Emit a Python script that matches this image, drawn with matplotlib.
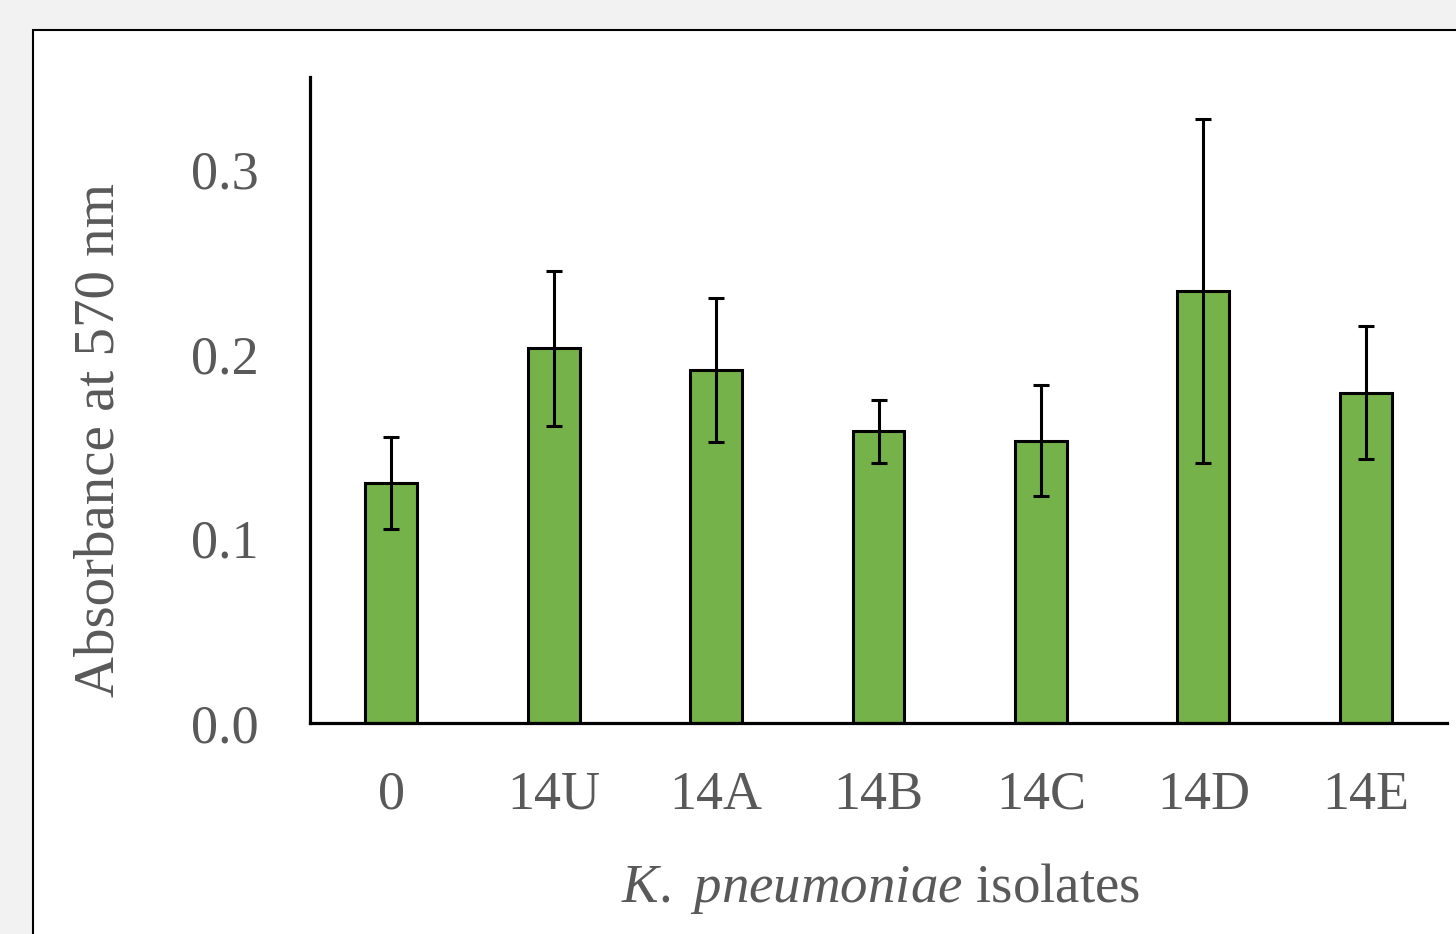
import matplotlib
matplotlib.use("Agg")
from matplotlib import pyplot as plt
from matplotlib.patches import Rectangle

isolates = ["0", "14U", "14A", "14B", "14C", "14D", "14E"]
absorbance = [0.130, 0.203, 0.191, 0.158, 0.153, 0.234, 0.179]
err = [0.025, 0.042, 0.039, 0.017, 0.030, 0.093, 0.036]
yticks = [0.0, 0.1, 0.2, 0.3]

plt.rcParams['font.family'] = ['Liberation Serif', 'DejaVu Serif']
plt.rcParams['mathtext.fontset'] = 'custom'
plt.rcParams['mathtext.rm'] = 'Liberation Serif'
plt.rcParams['mathtext.it'] = 'Liberation Serif:italic'

txt = '#595959'
fig = plt.figure(figsize=(14.56, 9.34), dpi=100, facecolor='#f2f2f2')

# white panel with black frame, running off the right and bottom edges
panel = Rectangle((33 / 1456, -0.1), 1.0, 1.1 - 30 / 934, transform=fig.transFigure,
                  facecolor='white', edgecolor='black', linewidth=1.5, zorder=-10)
fig.patches.append(panel)

ax = fig.add_axes([310 / 1456, 1 - 723 / 934, 1137 / 1456, 646 / 934])
ax.set_facecolor('none')
x = range(len(isolates))
ax.bar(x, absorbance, width=0.32, color='#75b24a', edgecolor='black', linewidth=2.2,
       yerr=err, error_kw=dict(ecolor='black', elinewidth=2.2, capsize=6, capthick=2.2))

ax.set_xlim(-0.5, 6.5)
ax.set_ylim(0, 0.35)
ax.set_yticks(yticks)
ax.set_yticklabels([f"{v:.1f}" for v in yticks])
ax.set_xticks(list(x))
ax.set_xticklabels(isolates)
ax.tick_params(axis='both', length=0, labelsize=39, labelcolor=txt)
ax.tick_params(axis='y', pad=37)
ax.tick_params(axis='x', pad=34)
for s in ['top', 'right']:
    ax.spines[s].set_visible(False)
for s in ['left', 'bottom']:
    ax.spines[s].set_linewidth(2.3)

fig.text(100 / 1456, 1 - 440 / 934, "Absorbance at 570 nm", rotation=90,
         ha='center', va='center', fontsize=41, color=txt)
fig.text(881 / 1456, 1 - 888 / 934, r"$\mathit{K.}$ $\mathit{pneumoniae}$ isolates",
         ha='center', va='center', fontsize=39.5, color=txt)

fig.savefig("out.png", dpi=100, facecolor=fig.get_facecolor())
